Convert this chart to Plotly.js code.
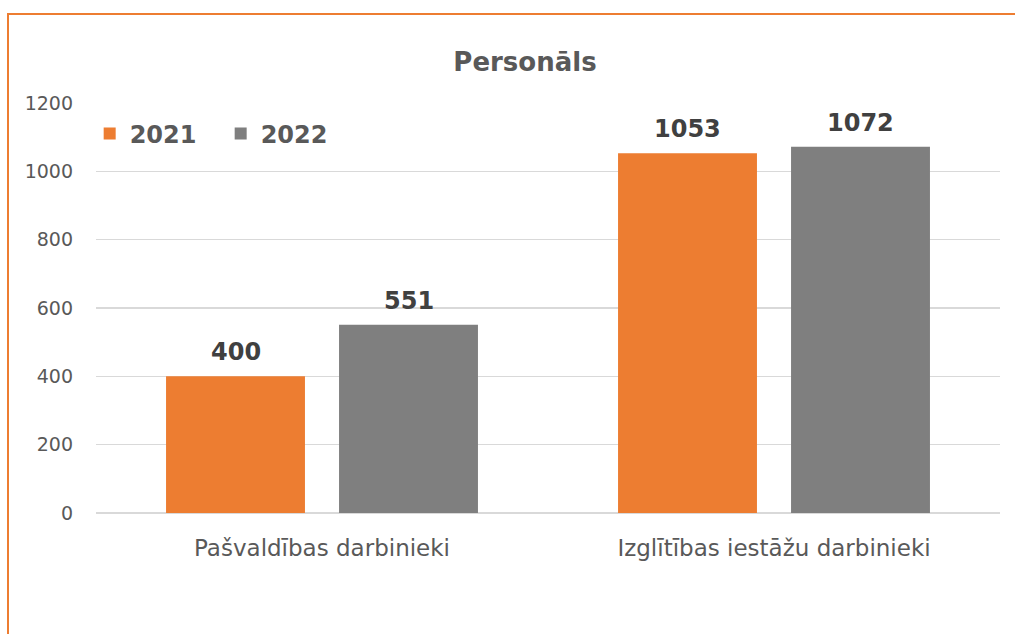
<!DOCTYPE html>
<html>
<head>
<meta charset="utf-8">
<script src="https://cdn.plot.ly/plotly-3.0.1.min.js"></script>
<style>
  html, body { margin: 0; padding: 0; background: #fff; overflow: hidden; }
  #wrap { position: relative; width: 1015px; height: 634px; }
  #chart { position: absolute; left: 0; top: 0; width: 1015px; height: 634px; }
  #frame { position: absolute; left: 7px; top: 13px; width: 1100px; height: 700px;
           border: 2px solid #ED7D31; pointer-events: none; box-sizing: border-box; }
</style>
</head>
<body>
<div id="wrap">
  <div id="chart"></div>
  <div id="frame"></div>
</div>
<script>
const categories = ["Pašvaldības darbinieki", "Izglītības iestāžu darbinieki"];
const seriesNames = ["2021", "2022"];
const values2021 = [400, 1053];
const values2022 = [551, 1072];
const seriesColors = ["#ED7D31", "#7F7F7F"];
const yTicks = [0, 200, 400, 600, 800, 1000, 1200];

const allValues = [values2021, values2022];
const bargap = 0.2345, bargroupgap = 0.197;

const traces = allValues.map((vals, i) => ({
  type: "bar",
  name: "<b>" + seriesNames[i] + "</b>",
  x: categories,
  y: vals,
  marker: { color: seriesColors[i], line: { width: 0 } },
  hoverinfo: "none"
}));

// label annotations placed at each bar's centre (category index ± half slot)
const slot = (1 - bargap) / 2;
const annotations = [];
allValues.forEach((vals, s) => {
  vals.forEach((v, c) => {
    annotations.push({
      x: c + (s - 0.5) * slot,
      y: v,
      xref: "x", yref: "y",
      text: "<b>" + v + "</b>",
      showarrow: false,
      yanchor: "bottom",
      yshift: 8,
      font: { family: "DejaVu Sans", size: 24, color: "#404040" }
    });
  });
});

const layout = {
  width: 1015, height: 634,
  paper_bgcolor: "rgba(0,0,0,0)",
  plot_bgcolor: "#ffffff",
  margin: { l: 96, r: 15, t: 103, b: 121 },
  barmode: "group",
  bargap: bargap,
  bargroupgap: bargroupgap,
  title: {
    text: "<b>Personāls</b>",
    x: 525 / 1015, xref: "container", xanchor: "center",
    y: 1 - 62 / 634, yref: "container", yanchor: "middle",
    font: { family: "DejaVu Sans", size: 26, color: "#595959" }
  },
  font: { family: "DejaVu Sans", color: "#595959" },
  xaxis: {
    type: "category",
    showgrid: false,
    showline: false,
    ticks: "",
    ticklabelstandoff: 19,
    tickfont: { family: "DejaVu Sans", size: 23, color: "#595959" }
  },
  yaxis: {
    range: [0, 1200],
    tickvals: yTicks,
    ticktext: yTicks.map(String),
    showgrid: true,
    gridcolor: "#D9D9D9",
    gridwidth: 1.5,
    zeroline: true,
    zerolinecolor: "#D9D9D9",
    zerolinewidth: 1.5,
    showline: false,
    ticks: "",
    ticklabelstandoff: 22,
    tickfont: { family: "DejaVu Sans", size: 19, color: "#595959" }
  },
  showlegend: true,
  legend: {
    orientation: "h",
    x: -0.007, xanchor: "left",
    y: (513 - 134) / 410, yanchor: "middle",
    bgcolor: "rgba(0,0,0,0)",
    font: { family: "DejaVu Sans", size: 24, color: "#595959" },
    entrywidth: 86,
    entrywidthmode: "pixels",
    traceorder: "normal"
  },
  annotations: annotations
};

Plotly.newPlot("chart", traces, layout, { staticPlot: true, displayModeBar: false });
</script>
</body>
</html>
